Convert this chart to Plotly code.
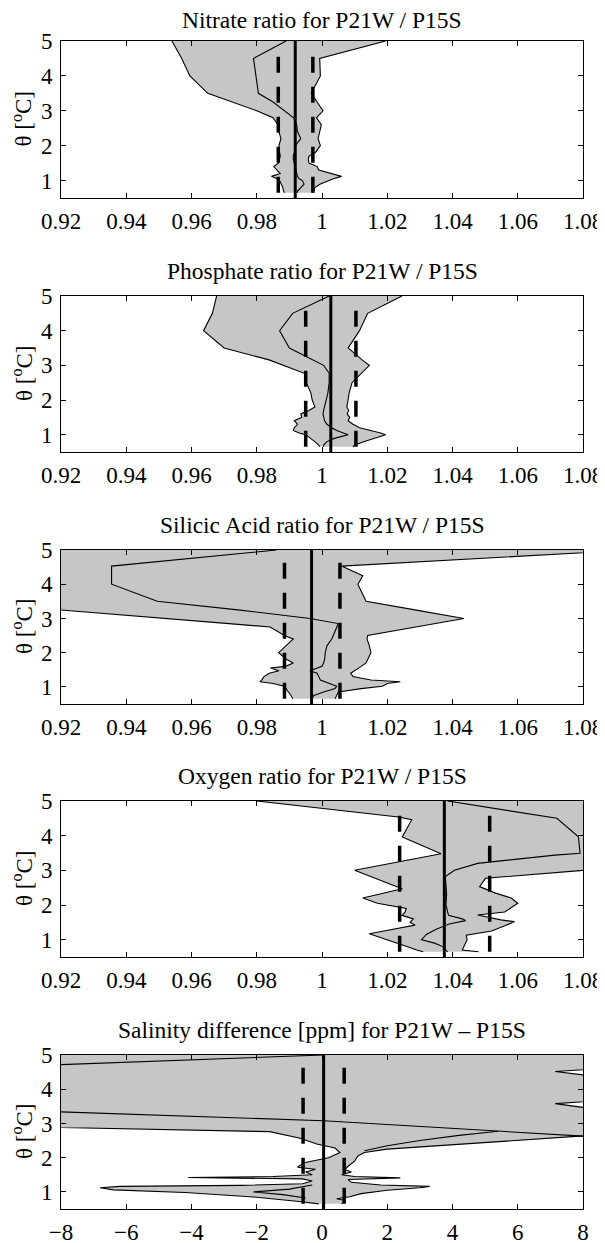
import plotly.graph_objects as go

# ---------------- data ----------------
# Nitrate (shared theta grid)
NIT_Y = [0.65, 0.7, 0.8, 0.9, 1.0, 1.05, 1.12, 1.2, 1.3, 1.4, 1.5, 1.6, 1.7, 1.8, 2.0, 2.2, 2.4, 2.6, 2.8, 3.0, 3.25, 3.5, 4.0, 4.5, 5.0]
NIT_LEFT = [0.9885, 0.9882, 0.9880, 0.9875, 0.9870, 0.9862, 0.9845, 0.9872, 0.9862, 0.9852, 0.9866, 0.9868, 0.9872, 0.9870, 0.9868, 0.9874, 0.9868, 0.9865, 0.9850, 0.9800, 0.9725, 0.9650, 0.9595, 0.9570, 0.9540]
NIT_INNER = [0.9925, 0.9925, 0.9935, 0.9945, 0.9940, 0.9930, 0.9925, 0.9922, 0.9920, 0.9918, 0.9915, 0.9912, 0.9912, 0.9915, 0.9918, 0.9935, 0.9925, 0.9922, 0.9913, 0.9885, 0.9850, 0.9805, 0.9798, 0.9790, 0.9890]
NIT_RIGHT = [0.9973, 0.9975, 0.9978, 0.9995, 1.0020, 1.0035, 1.0060, 1.0030, 0.9990, 0.9985, 0.9960, 0.9958, 0.9960, 0.9980, 0.9995, 0.9988, 0.9992, 0.9998, 0.9983, 1.0003, 0.9985, 0.9967, 0.9995, 0.9993, 1.0195]
NIT_MEAN, NIT_LO, NIT_HI = 0.9918, 0.9866, 0.9972

# Phosphate
PHO_Y = [0.65, 0.7, 0.8, 0.9, 1.0, 1.05, 1.12, 1.2, 1.3, 1.4, 1.5, 1.6, 1.7, 1.8, 2.0, 2.2, 2.5, 2.77, 3.0, 3.15, 3.5, 4.0, 4.5, 5.0]
PHO_LEFT = [0.9993, 0.9990, 0.9978, 0.9965, 0.9950, 0.9930, 0.9912, 0.9915, 0.9925, 0.9915, 0.9938, 0.9935, 0.9960, 0.9978, 0.9970, 0.9966, 0.9952, 0.9946, 0.9881, 0.9840, 0.9700, 0.9637, 0.9664, 0.9677]
PHO_INNER = [1.0005, 1.0005, 1.0015, 1.0040, 1.0080, 1.0065, 1.0045, 1.0030, 1.0015, 1.0008, 1.0005, 1.0003, 1.0005, 1.0008, 1.0012, 1.0018, 1.0022, 1.0022, 1.0005, 0.9972, 0.9900, 0.9870, 0.9910, 1.0022]
PHO_RIGHT = [1.0095, 1.0100, 1.0130, 1.0160, 1.0195, 1.0180, 1.0150, 1.0115, 1.0095, 1.0080, 1.0085, 1.0077, 1.0082, 1.0076, 1.0080, 1.0083, 1.0092, 1.0121, 1.0145, 1.0124, 1.0080, 1.0115, 1.0140, 1.0245]
PHO_MEAN, PHO_LO, PHO_HI = 1.0027, 0.9950, 1.0104

# Silicic acid
SIL_Y = [0.65, 0.75, 0.85, 0.95, 1.02, 1.1, 1.15, 1.2, 1.3, 1.4, 1.47, 1.55, 1.6, 1.7, 1.8, 2.0, 2.2, 2.4, 2.5, 2.75, 2.85, 3.0, 3.25, 3.5, 4.0, 4.25, 4.53, 5.0]
SIL_LEFT = [0.9910, 0.9905, 0.9897, 0.9890, 0.9885, 0.9850, 0.9810, 0.9815, 0.9822, 0.9838, 0.9868, 0.9842, 0.9888, 0.9912, 0.9892, 0.9867, 0.9890, 0.9912, 0.9885, 0.9841, 0.9715, 0.9515, 0.9188, 0.8870, 0.8800, 0.8800, 0.8800, 0.8800]
SIL_INNER = [0.9968, 0.9975, 1.0005, 1.0040, 1.0045, 1.0025, 1.0010, 0.9995, 0.9990, 0.9985, 0.9963, 0.9990, 1.0000, 1.0005, 1.0008, 1.0010, 1.0015, 1.0030, 1.0035, 1.0045, 1.0050, 0.9963, 0.9742, 0.9495, 0.9355, 0.9355, 0.9355, 0.9860]
SIL_RIGHT = [1.0040, 1.0045, 1.0050, 1.0120, 1.0185, 1.0200, 1.0240, 1.0150, 1.0095, 1.0088, 1.0100, 1.0110, 1.0120, 1.0135, 1.0140, 1.0150, 1.0145, 1.0138, 1.0140, 1.0288, 1.0346, 1.0435, 1.0285, 1.0135, 1.0110, 1.0125, 1.0060, 1.0950]
SIL_MEAN, SIL_LO, SIL_HI = 0.9968, 0.9885, 1.0055

# Oxygen (each curve on its own theta points)
OXY_LEFT_Y = [0.65, 0.7, 0.8, 0.9, 1.0, 1.05, 1.17, 1.25, 1.35, 1.42, 1.5, 1.6, 1.7, 1.8, 1.9, 2.05, 2.2, 2.35, 2.47, 2.6, 3.0, 3.48, 3.96, 4.46, 4.54, 5.0]
OXY_LEFT_X = [1.0310, 1.0290, 1.0260, 1.0230, 1.0200, 1.0185, 1.0145, 1.0190, 1.0240, 1.0285, 1.0270, 1.0280, 1.0245, 1.0255, 1.0258, 1.0170, 1.0125, 1.0190, 1.0246, 1.0210, 1.0100, 1.0365, 1.0246, 1.0275, 1.0234, 0.9800]
OXY_RIGHT_Y = [0.65, 0.7, 0.8, 0.9, 1.0, 1.13, 1.25, 1.4, 1.52, 1.57, 1.65, 1.71, 1.8, 2.05, 2.2, 2.35, 2.53, 2.77, 3.0, 3.05, 5.0]
OXY_RIGHT_X = [1.0480, 1.0430, 1.0435, 1.0440, 1.0445, 1.0442, 1.0520, 1.0560, 1.0590, 1.0548, 1.0500, 1.0477, 1.0560, 1.0600, 1.0580, 1.0530, 1.0483, 1.0501, 1.0800, 1.0900, 1.0900]
OXY_INNER_Y = [0.65, 0.7, 0.8, 0.9, 1.0, 1.15, 1.3, 1.45, 1.55, 1.6, 1.7, 1.8, 2.0, 2.3, 2.5, 2.82, 3.0, 3.2, 3.44, 3.49, 3.97, 4.5, 5.0]
OXY_INNER_X = [1.0385, 1.0380, 1.0370, 1.0345, 1.0305, 1.0320, 1.0350, 1.0390, 1.0440, 1.0430, 1.0388, 1.0385, 1.0380, 1.0382, 1.0380, 1.0378, 1.0406, 1.0477, 1.0714, 1.0791, 1.0786, 1.0720, 1.0385]
OXY_MEAN, OXY_LO, OXY_HI = 1.0375, 1.0238, 1.0514

# Salinity difference [ppm]
SAL_LEFT_Y = [0.65, 0.72, 0.86, 0.98, 1.06, 1.12, 1.16, 1.19, 1.24, 1.32, 1.38, 1.42, 1.45, 1.5, 1.58, 1.66, 1.72, 1.85, 2.0, 2.15, 2.28, 2.4, 2.57, 2.76, 2.88, 2.92, 5.0]
SAL_LEFT_X = [-0.1, -0.7, -2.2, -4.2, -6.4, -6.8, -6.2, -2.5, -0.6, -0.3, -0.6, -4.1, -1.5, -0.3, -0.5, -0.2, -0.75, -0.55, 0.2, 0.55, 0.4, -0.16, -0.67, -1.6, -8.0, -9.0, -9.0]
SAL_RIGHT_Y = [0.65, 0.75, 0.8, 0.86, 0.95, 1.05, 1.12, 1.16, 1.2, 1.28, 1.36, 1.41, 1.45, 1.5, 1.58, 1.65, 1.75, 1.9, 2.05, 2.15, 2.25, 2.62, 2.7, 3.42, 3.47, 3.58, 3.65, 3.7, 4.37, 4.42, 4.52, 4.58, 4.63, 5.0]
SAL_RIGHT_X = [0.6, 0.7, 0.45, 0.85, 1.2, 2.0, 3.0, 3.3, 1.8, 0.9, 0.8, 2.4, 1.0, 0.6, 0.9, 0.7, 0.8, 1.0, 1.1, 1.3, 2.0, 8.0, 9.0, 9.0, 8.0, 7.15, 8.0, 9.0, 9.0, 8.0, 7.15, 8.0, 9.0, 9.0]
SAL_INNER_A_Y = [4.685, 5.0]
SAL_INNER_A_X = [-9.0, 0.05]
SAL_INNER_B_Y = [2.6, 2.77, 3.08, 3.37]
SAL_INNER_B_X = [8.5, 5.4, 0.05, -9.0]
SAL_INNER_C_Y = [2.2, 2.35, 2.5, 2.65, 2.77]
SAL_INNER_C_X = [1.3, 2.0, 3.0, 4.2, 5.4]
SAL_INNER_D_Y = [0.82, 0.92, 1.0, 1.08, 1.2]
SAL_INNER_D_X = [-0.5, -1.2, -2.1, -1.0, -0.3]
SAL_MEAN, SAL_LO, SAL_HI = 0.05, -0.58, 0.68

RATIO_TICKS = [0.92, 0.94, 0.96, 0.98, 1.0, 1.02, 1.04, 1.06, 1.08]
RATIO_TICKTEXT = ["0.92", "0.94", "0.96", "0.98", "1", "1.02", "1.04", "1.06", "1.08"]
SAL_TICKS = [-8, -6, -4, -2, 0, 2, 4, 6, 8]
SAL_TICKTEXT = ["\u22128", "\u22126", "\u22124", "\u22122", "0", "2", "4", "6", "8"]
THETA_TICKS = [1, 2, 3, 4, 5]

TITLES = ["Nitrate ratio for P21W / P15S",
          "Phosphate ratio for P21W / P15S",
          "Silicic Acid ratio for P21W / P15S",
          "Oxygen ratio for P21W / P15S",
          "Salinity difference [ppm] for P21W \u2013 P15S"]

# ---------------- figure ----------------
W, H = 605, 1243
OFF = 8  # the page body adds an 8px margin; compensate
X0, X1 = 61 - OFF, 583 - OFF
TOPS = [t - OFF for t in (41, 296, 550, 801, 1055)]
BOTS = [b - OFF for b in (198, 452, 704, 957, 1209)]
FILL = "#c6c6c6"
FONT = "Liberation Serif"

panels = [
    dict(left=(NIT_Y, NIT_LEFT), right=(NIT_Y, NIT_RIGHT), inner=[(NIT_Y, NIT_INNER)],
         mean=NIT_MEAN, lo=NIT_LO, hi=NIT_HI, xr=[0.92, 1.08], ticks=RATIO_TICKS, tt=RATIO_TICKTEXT),
    dict(left=(PHO_Y, PHO_LEFT), right=(PHO_Y, PHO_RIGHT), inner=[(PHO_Y, PHO_INNER)],
         mean=PHO_MEAN, lo=PHO_LO, hi=PHO_HI, xr=[0.92, 1.08], ticks=RATIO_TICKS, tt=RATIO_TICKTEXT),
    dict(left=(SIL_Y, SIL_LEFT), right=(SIL_Y, SIL_RIGHT), inner=[(SIL_Y, SIL_INNER)],
         mean=SIL_MEAN, lo=SIL_LO, hi=SIL_HI, xr=[0.92, 1.08], ticks=RATIO_TICKS, tt=RATIO_TICKTEXT),
    dict(left=(OXY_LEFT_Y, OXY_LEFT_X), right=(OXY_RIGHT_Y, OXY_RIGHT_X), inner=[(OXY_INNER_Y, OXY_INNER_X)],
         mean=OXY_MEAN, lo=OXY_LO, hi=OXY_HI, xr=[0.92, 1.08], ticks=RATIO_TICKS, tt=RATIO_TICKTEXT),
    dict(left=(SAL_LEFT_Y, SAL_LEFT_X), right=(SAL_RIGHT_Y, SAL_RIGHT_X),
         inner=[(SAL_INNER_A_Y, SAL_INNER_A_X), (SAL_INNER_B_Y, SAL_INNER_B_X),
                (SAL_INNER_C_Y, SAL_INNER_C_X), (SAL_INNER_D_Y, SAL_INNER_D_X)],
         mean=SAL_MEAN, lo=SAL_LO, hi=SAL_HI, xr=[-8, 8], ticks=SAL_TICKS, tt=SAL_TICKTEXT),
]

fig = go.Figure()
annotations = []
for i, p in enumerate(panels):
    n = "" if i == 0 else str(i + 1)
    xa, ya = "x" + n, "y" + n
    ly, lx = p["left"]
    ry, rx = p["right"]
    poly_x = list(lx) + list(rx)[::-1]
    poly_y = list(ly) + list(ry)[::-1]
    fig.add_trace(go.Scatter(x=poly_x, y=poly_y, fill="toself", fillcolor=FILL,
                             line=dict(width=0), mode="lines", hoverinfo="skip",
                             xaxis=xa, yaxis=ya))
    for cy, cx in [p["left"], p["right"]] + p["inner"]:
        fig.add_trace(go.Scatter(x=cx, y=cy, mode="lines",
                                 line=dict(color="black", width=1.1),
                                 xaxis=xa, yaxis=ya))
    fig.add_trace(go.Scatter(x=[p["mean"], p["mean"]], y=[0.5, 5.0], mode="lines",
                             line=dict(color="black", width=3), xaxis=xa, yaxis=ya))
    for d in (p["lo"], p["hi"]):
        fig.add_trace(go.Scatter(x=[d, d], y=[0.65, 4.72], mode="lines",
                                 line=dict(color="black", width=3.5, dash="16px,14px"),
                                 xaxis=xa, yaxis=ya))

    top, bot = TOPS[i], BOTS[i]
    dom_y = [1 - bot / H, 1 - top / H]
    axis_common = dict(showline=True, linecolor="black", linewidth=1, mirror="ticks",
                       ticks="inside", ticklen=5, tickcolor="black", tickwidth=1,
                       showgrid=False, zeroline=False, automargin=False,
                       tickfont=dict(family=FONT, size=23, color="black"))
    fig.layout["xaxis" + n] = dict(domain=[X0 / W, X1 / W], range=p["xr"], anchor=ya,
                                   tickvals=p["ticks"], ticktext=p["tt"],
                                   ticklabelstandoff=2, **axis_common)
    fig.layout["yaxis" + n] = dict(domain=dom_y, range=[0.5, 5.0], anchor=xa,
                                   tickvals=THETA_TICKS, ticklabelstandoff=3, **axis_common)
    title_y = max(top - 25, 12)
    annotations.append(dict(text=TITLES[i], xref="paper", yref="paper",
                            x=(X0 + X1) / 2 / W, y=1 - title_y / H,
                            xanchor="center", yanchor="middle", showarrow=False,
                            font=dict(family=FONT, size=23.5, color="black")))
    annotations.append(dict(text="\u03b8 [<sup>o</sup>C]", xref="paper", yref="paper",
                            x=(22 - OFF) / W, y=1 - (top + bot) / 2 / H, textangle=-90,
                            xanchor="center", yanchor="middle", showarrow=False,
                            font=dict(family=FONT, size=23, color="black")))

fig.update_layout(width=W, height=H, margin=dict(l=0, r=0, t=0, b=0, autoexpand=False),
                  paper_bgcolor="white", plot_bgcolor="white", showlegend=False,
                  annotations=annotations)
fig.write_html("out.html")
